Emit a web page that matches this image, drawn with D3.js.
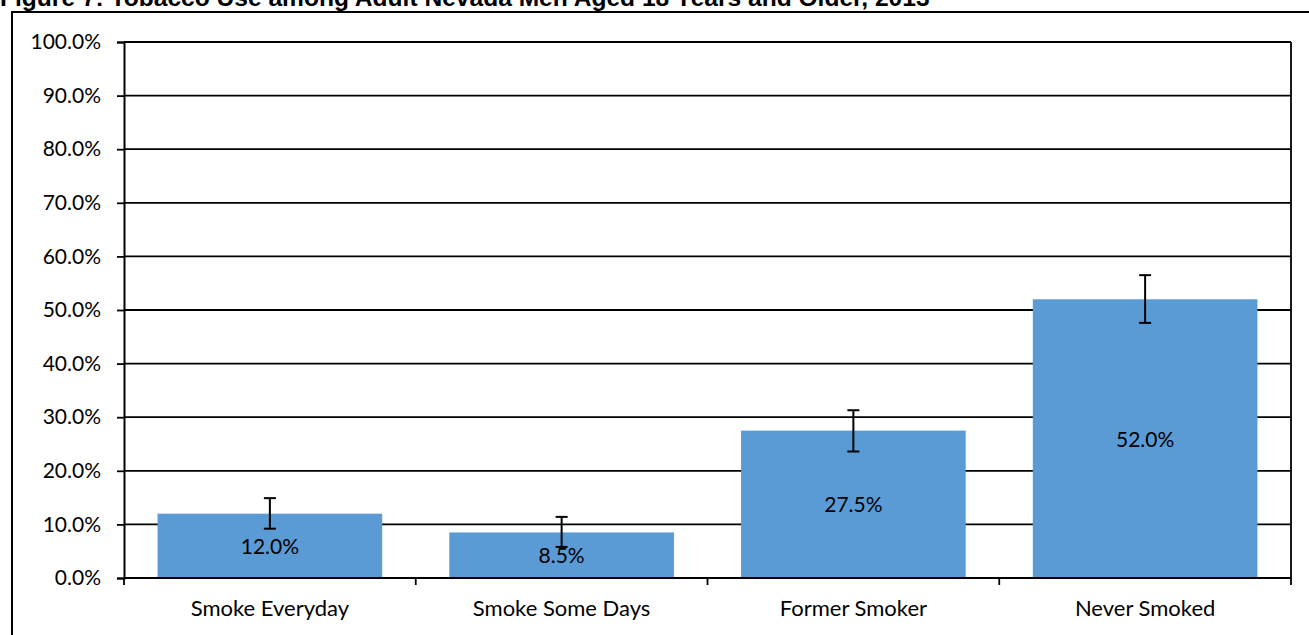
<!DOCTYPE html>
<html>
<head>
<meta charset="utf-8">
<script src="https://cdn.jsdelivr.net/npm/d3@7"></script>
<style>
html,body{margin:0;padding:0;background:#fff;}
svg{display:block;}
</style>
</head>
<body>
<svg id="chart" width="1309" height="635"></svg>
<script>
const title = "Figure 7: Tobacco Use among Adult Nevada Men Aged 18 Years and Older, 2013";
const categories = ["Smoke Everyday", "Smoke Some Days", "Former Smoker", "Never Smoked"];
const values = [12.0, 8.5, 27.5, 52.0];
const errLow = [9.2, 5.8, 23.6, 47.6];
const errHigh = [14.9, 11.4, 31.3, 56.5];
const yTicks = [0, 10, 20, 30, 40, 50, 60, 70, 80, 90, 100];

(function () {
const svg = d3.select("#chart");
const W = 1309, H = 635;
const pL = 124, pR = 1291, pT = 42, pB = 578;
const font = "Lato, 'Open Sans', sans-serif";

// outer frame
svg.append("rect").attr("x", 12).attr("y", 12).attr("width", W + 20).attr("height", H + 20)
  .attr("fill", "none").attr("stroke", "#000").attr("stroke-width", 2);

// title (partly cut off at the top, as in the reference)
const t = svg.append("text").attr("x", 0).attr("y", 6)
  .attr("font-family", "'Liberation Sans', Arial, sans-serif").attr("font-weight", "bold")
  .attr("font-size", 20).attr("fill", "#000").text(title);
const tl = t.node().getComputedTextLength();
if (tl > 0) t.attr("font-size", 20 * 930 / tl);

const x = d3.scaleBand().domain(categories).range([pL, pR]).paddingInner(0.23).paddingOuter(0.115);
const y = d3.scaleLinear().domain([0, 100]).range([pB, pT]);

// gridlines
svg.append("g").selectAll("line").data(yTicks).join("line")
  .attr("x1", pL).attr("x2", pR)
  .attr("y1", d => y(d)).attr("y2", d => y(d))
  .attr("stroke", "#000").attr("stroke-width", 1.8);

// right border of plot
svg.append("line").attr("x1", pR).attr("x2", pR).attr("y1", pT).attr("y2", pB)
  .attr("stroke", "#000").attr("stroke-width", 1.8);

// y axis
const yAxis = d3.axisLeft(y).tickValues(yTicks).tickSize(7).tickPadding(16)
  .tickFormat(d => d3.format(".1f")(d) + "%");
const gy = svg.append("g").attr("transform", `translate(${pL},0)`).call(yAxis);
gy.select(".domain").attr("stroke", "#000").attr("stroke-width", 2);
gy.selectAll(".tick line").attr("stroke", "#000").attr("stroke-width", 1.8);
gy.selectAll(".tick text").attr("font-family", font).attr("font-size", 21).attr("fill", "#000");

// bars
svg.append("g").selectAll("rect").data(categories).join("rect")
  .attr("x", d => x(d)).attr("width", x.bandwidth())
  .attr("y", (d, i) => y(values[i])).attr("height", (d, i) => y(0) - y(values[i]))
  .attr("fill", "#5B9BD5");

// x axis
const boundaries = categories.map(c => x(c) - x.step() * x.paddingOuter()).concat([pR]);
const xg = svg.append("g");
xg.append("line").attr("x1", pL).attr("x2", pR).attr("y1", y(0)).attr("y2", y(0))
  .attr("stroke", "#000").attr("stroke-width", 2);
xg.selectAll("line.tk").data(boundaries).join("line").attr("class", "tk")
  .attr("x1", d => d).attr("x2", d => d).attr("y1", y(0)).attr("y2", y(0) + 7)
  .attr("stroke", "#000").attr("stroke-width", 1.8);
xg.selectAll("text").data(categories).join("text")
  .attr("x", d => x(d) + x.bandwidth() / 2).attr("y", 616)
  .attr("text-anchor", "middle").attr("font-family", font).attr("font-size", 22).attr("fill", "#000")
  .text(d => d);

// error bars
const eg = svg.append("g").attr("stroke", "#000").attr("stroke-width", 2);
categories.forEach((c, i) => {
  const cx = x(c) + x.bandwidth() / 2;
  eg.append("line").attr("x1", cx).attr("x2", cx).attr("y1", y(errLow[i])).attr("y2", y(errHigh[i]));
  eg.append("line").attr("x1", cx - 6).attr("x2", cx + 6).attr("y1", y(errLow[i])).attr("y2", y(errLow[i]));
  eg.append("line").attr("x1", cx - 6).attr("x2", cx + 6).attr("y1", y(errHigh[i])).attr("y2", y(errHigh[i]));
});

// value labels
svg.append("g").selectAll("text").data(categories).join("text")
  .attr("x", d => x(d) + x.bandwidth() / 2)
  .attr("y", (d, i) => (y(values[i]) + y(0)) / 2 + 8)
  .attr("text-anchor", "middle").attr("font-family", font).attr("font-size", 21).attr("fill", "#000")
  .text((d, i) => d3.format(".1f")(values[i]) + "%");
})();
</script>
</body>
</html>
